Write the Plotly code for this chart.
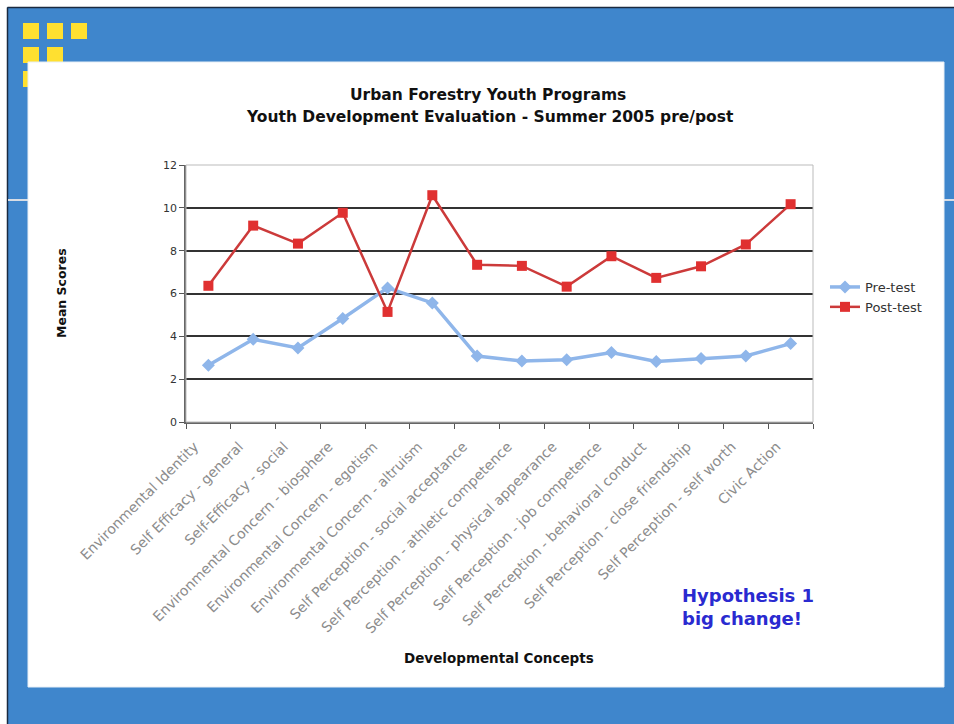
import plotly.graph_objects as go

categories = [
    "Environmental Identity",
    "Self Efficacy - general",
    "Self-Efficacy - social",
    "Environmental Concern - biosphere",
    "Environmental Concern - egotism",
    "Environmental Concern - altruism",
    "Self Perception - social acceptance",
    "Self Perception - athletic competence",
    "Self Perception - physical appearance",
    "Self Perception - job competence",
    "Self Perception - behavioral conduct",
    "Self Perception - close friendship",
    "Self Perception - self worth",
    "Civic Action",
]
pre_test = [2.65, 3.86, 3.46, 4.83, 6.26, 5.56, 3.08, 2.85, 2.91, 3.24, 2.83, 2.96, 3.08, 3.66]
post_test = [6.36, 9.17, 8.33, 9.77, 5.14, 10.59, 7.34, 7.29, 6.32, 7.74, 6.73, 7.27, 8.29, 10.17]
y_ticks = [0, 2, 4, 6, 8, 10, 12]

W, H = 954, 724
def px(x):
    return x / W
def py(y):
    return 1 - y / H

fig = go.Figure()
fig.add_trace(go.Scatter(
    x=categories, y=pre_test, name="Pre-test", mode="lines+markers",
    line=dict(color="#8fb6ea", width=3.5),
    marker=dict(symbol="diamond", size=10, color="#8fb6ea"),
))
fig.add_trace(go.Scatter(
    x=categories, y=post_test, name="Post-test", mode="lines+markers",
    line=dict(color="#cc3a3a", width=2.5),
    marker=dict(symbol="square", size=10, color="#e03030"),
))

shapes = [
    dict(type="rect", xref="paper", yref="paper", x0=0, x1=1, y0=py(7), y1=1,
         fillcolor="white", line_width=0, layer="below"),
    dict(type="rect", xref="paper", yref="paper", x0=0, x1=px(7), y0=0, y1=1,
         fillcolor="white", line_width=0, layer="below"),
    dict(type="line", xref="paper", yref="paper", x0=px(7.5), x1=1, y0=py(7.5), y1=py(7.5),
         line=dict(color="#1a2a40", width=1.5), layer="below"),
    dict(type="line", xref="paper", yref="paper", x0=px(7.5), x1=px(7.5), y0=0, y1=py(7.5),
         line=dict(color="#1a2a40", width=1.5), layer="below"),
    dict(type="line", xref="paper", yref="paper", x0=px(8), x1=1, y0=py(200), y1=py(200),
         line=dict(color="#d8dde4", width=2), layer="below"),
]
for (sx, sy) in [(23, 23), (47, 23), (71, 23), (23, 47), (47, 47), (23, 71)]:
    shapes.append(dict(type="rect", xref="paper", yref="paper",
                       x0=px(sx), x1=px(sx + 16), y0=py(sy + 16), y1=py(sy),
                       fillcolor="#ffe030", line_width=0, layer="below"))
shapes.append(dict(type="rect", xref="paper", yref="paper",
                   x0=px(28), x1=px(944), y0=py(687), y1=py(62),
                   fillcolor="white", line=dict(color="#e6eef6", width=1), layer="below"))

def ann(text, x, y, size, color="#111", **kw):
    d = dict(text=text, xref="paper", yref="paper", x=px(x), y=py(y),
             xanchor="center", yanchor="middle", showarrow=False,
             font=dict(family="DejaVu Sans", size=size, color=color))
    d.update(kw)
    return d

fig.update_layout(
    width=W, height=H,
    margin=dict(l=0, r=0, t=0, b=0),
    paper_bgcolor="#3f86cc",
    plot_bgcolor="white",
    shapes=shapes,
    showlegend=True,
    legend=dict(x=px(825), y=py(272), xanchor="left", yanchor="top",
                bgcolor="rgba(0,0,0,0)", font=dict(family="DejaVu Sans", size=13, color="#333"),
                tracegroupgap=0, itemwidth=30),
    font=dict(family="DejaVu Sans"),
    annotations=[
        ann("<b>Urban Forestry Youth Programs</b>", 488, 95, 15.5),
        ann("<b>Youth Development Evaluation - Summer 2005 pre/post</b>", 490, 117, 15.5),
        ann("<b>Mean Scores</b>", 61, 293, 12.5, textangle=-90),
        ann("<b>Developmental Concepts</b>", 499, 658, 13.5),
        ann("<b>Hypothesis 1<br>big change!</b>", 680, 607, 18, color="#2a2ad0",
            xanchor="left", align="left"),
    ],
    xaxis=dict(
        domain=[px(186), px(813)],
        type="category",
        range=[-0.5, len(categories) - 0.5],
        tickangle=-45,
        tickson="boundaries",
        ticks="outside", ticklen=5, tickcolor="#555",
        ticklabelshift=-14, ticklabelstandoff=9,
        showgrid=False,
        showline=True, linecolor="#666", linewidth=2, mirror=False,
        tickfont=dict(family="DejaVu Sans", size=14, color="#8c8c8c"),
        automargin=False,
    ),
    yaxis=dict(
        domain=[py(422), py(165)],
        range=[0, 12],
        tickvals=y_ticks,
        ticks="outside", ticklen=5, tickcolor="#555",
        showgrid=True, gridcolor="#333", gridwidth=1.8,
        showline=True, linecolor="#666", linewidth=1.5,
        tickfont=dict(family="DejaVu Sans", size=11, color="#333"),
        zeroline=False,
        automargin=False,
    ),
)
fig.add_shape(type="rect", xref="x domain", yref="y domain", x0=0, x1=1, y0=0, y1=1,
              line=dict(color="#bbb", width=1), layer="above")

fig.write_html("out.html", config={"displayModeBar": False},
               post_script="document.body.style.margin='0px';")
